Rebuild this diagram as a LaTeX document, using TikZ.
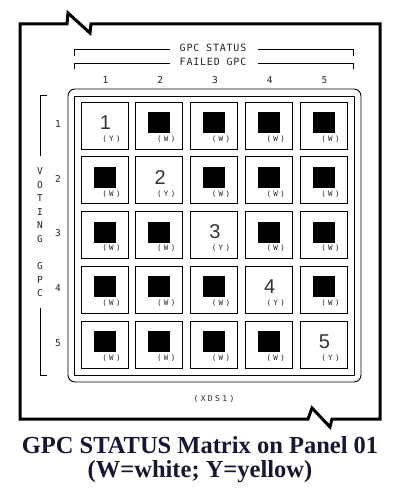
\documentclass[tikz,border=0pt]{standalone}
\usepackage{fontspec}
\setmainfont{Liberation Serif}
\newfontfamily\monofont{DejaVu Sans Mono}
\newfontfamily\hdrfont[LetterSpace=8]{DejaVu Sans Mono}
\newfontfamily\cellfont[LetterSpace=30]{DejaVu Sans Mono}
\newfontfamily\digfont{Liberation Sans}
\definecolor{navy}{RGB}{22,22,54}
\begin{document}
\begin{tikzpicture}[x=1pt,y=-1pt,
  frame/.style={line width=3pt, line join=miter},
  thin/.style={line width=0.9pt},
  cellbox/.style={draw, line width=0.9pt, minimum size=47pt, inner sep=0pt},
  blk/.style={fill=black, minimum width=22pt, minimum height=21pt, inner sep=0pt},
  celllbl/.style={font=\cellfont\fontsize{7.5}{8}\selectfont, inner sep=0pt, text=black!85},
  bigdig/.style={font=\digfont\fontsize{20}{22}\selectfont, inner sep=0pt, text=black!80},
  hdr/.style={font=\hdrfont\fontsize{10}{11}\selectfont, inner sep=0pt, text=black!85},
  num/.style={font=\monofont\fontsize{9.5}{10}\selectfont, inner sep=0pt, text=black!85},
  vlet/.style={font=\monofont\fontsize{9.5}{10}\selectfont, inner sep=0pt, text=black!85},
  caption/.style={font=\bfseries\fontsize{24.5}{28}\selectfont, text=navy, inner sep=0pt}]
\useasboundingbox (0,0) rectangle (400,497);
\fill[white] (0,0) rectangle (400,497);
% outer frame with break marks
\draw[frame] (20,24) -- (67,24) -- (68,13) -- (90,33) -- (91,24) -- (380,24)
  -- (380,419) -- (332,419) -- (330,427) -- (312,408) -- (308,419) -- (20,419) -- cycle;
% header brackets
\node[hdr] (gpcstatus) at (213,48) {GPC STATUS};
\node[hdr] (failedgpc) at (213,62) {FAILED GPC};
\draw[thin] (74,56) -- (74,49) -- (170,49);
\draw[thin] (258,49) -- (353,49) -- (353,56);
\draw[thin] (74,69) -- (74,63) -- (170,63);
\draw[thin] (258,63) -- (353,63) -- (353,69);
% column and row numbers
\foreach \i in {1,...,5}{
  \pgfmathsetmacro\cx{105.5+54.75*(\i-1)}
  \node[num] (col\i) at (\cx,80) {\i};
  \pgfmathsetmacro\ry{124+54.75*(\i-1)}
  \node[num] (row\i) at (58,\ry) {\i};
}
% voting gpc bracket
\draw[thin] (47,95) -- (40,95) -- (40,156);
\draw[thin] (40,308) -- (40,375) -- (47,375);
\foreach \l [count=\k from 0] in {V,O,T,I,N,G}{
  \node[vlet] (v\k) at (40,{171+13.6*\k}) {\l};
}
\foreach \l [count=\k from 7] in {G,P,C}{
  \node[vlet] (g\k) at (40,{171+13.6*\k}) {\l};
}
% matrix frames
\draw[thin, rounded corners=7pt] (68,89) rectangle (361,382);
\draw[thin] (74,96) rectangle (354,375);
% cells
\foreach \i in {1,...,5}{
  \foreach \j in {1,...,5}{
    \pgfmathsetmacro\cx{104.5+54.75*(\i-1)}
    \pgfmathsetmacro\cy{125.5+54.75*(\j-1)}
    \node[cellbox] (c\j\i) at (\cx,\cy) {};
    \ifnum\i=\j
      \node[bigdig] (d\j\i) at ([xshift=1pt,yshift=3pt]c\j\i.center) {\i};
      \node[celllbl] (l\j\i) at ([xshift=7pt,yshift=-13.5pt]c\j\i.center) {(Y)};
    \else
      \node[blk] (b\j\i) at ([yshift=3pt]c\j\i.center) {};
      \node[celllbl] (l\j\i) at ([xshift=7pt,yshift=-13.5pt]c\j\i.center) {(W)};
    \fi
  }
}
\node[celllbl, font=\cellfont\fontsize{8}{9}\selectfont] (xds) at (214,399) {(XDS1)};
% caption
\node[caption] (cap1) at (200,445) {GPC STATUS Matrix on Panel 01};
\node[caption] (cap2) at (200,472) {(W=white; Y=yellow)};
\end{tikzpicture}
\end{document}
